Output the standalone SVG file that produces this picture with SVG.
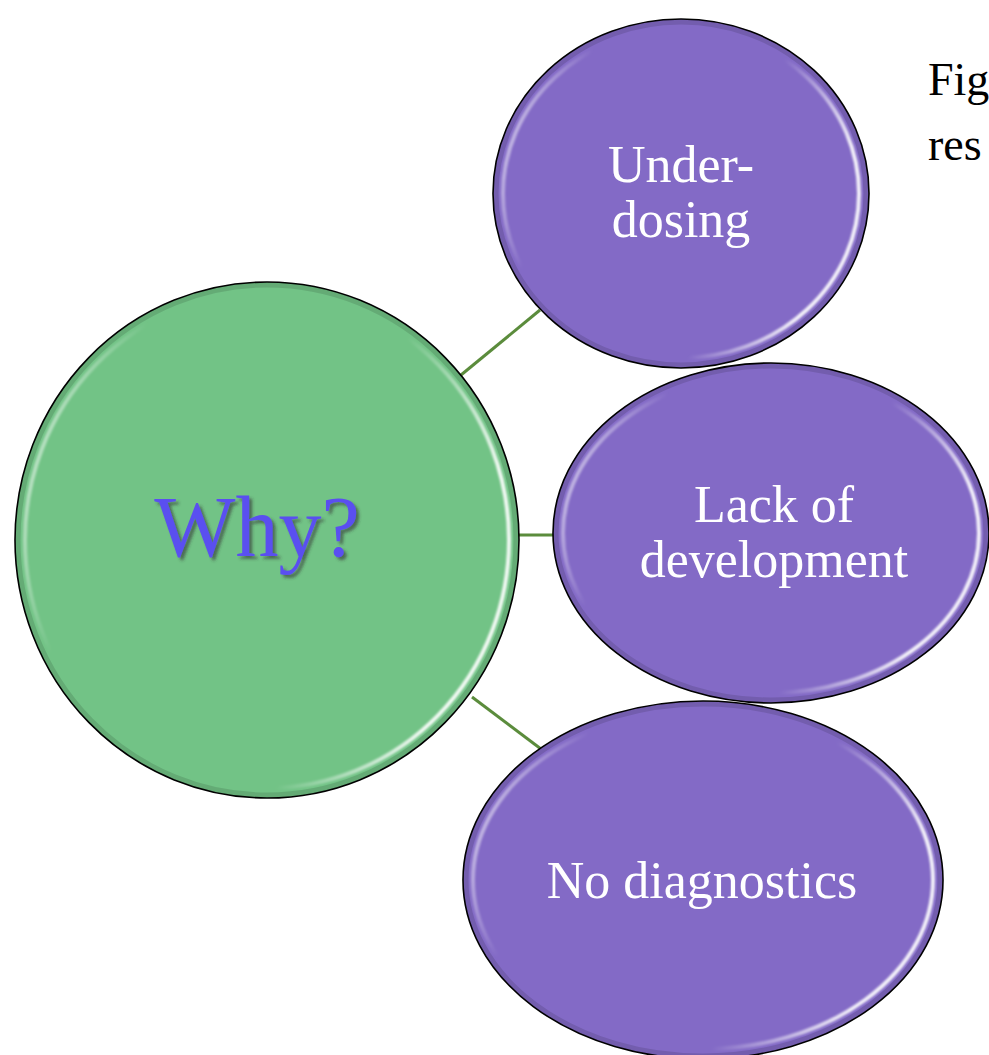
<svg xmlns="http://www.w3.org/2000/svg" width="989" height="1055" viewBox="0 0 989 1055">
<style>
.edge{stroke:#5b8c3c;stroke-width:3;fill:none}
.green{fill:#72c386;stroke:#000;stroke-width:1.6}
.purple{fill:#836ac6;stroke:#000;stroke-width:1.6}
.hl{fill:none;stroke:url(#hlg);stroke-width:4;filter:url(#blur)}
.rim{fill:none;stroke:#000;stroke-opacity:0.12;stroke-width:5}
.lbl{font-family:"Liberation Serif","Times New Roman",serif;font-size:52px;fill:#fff;text-anchor:middle}
.why{font-family:"Liberation Serif","Times New Roman",serif;font-size:86px;fill:#5a4ff0;text-anchor:middle;filter:url(#shadow)}
.cap{font-family:"Liberation Serif","Times New Roman",serif;font-size:46px;fill:#000}
</style>
<defs>
<linearGradient id="hlg" x1="0" y1="0" x2="1" y2="0.3">
<stop offset="0" stop-color="#fff" stop-opacity="0.9"/>
<stop offset="0.25" stop-color="#fff" stop-opacity="0"/>
<stop offset="0.75" stop-color="#fff" stop-opacity="0"/>
<stop offset="1" stop-color="#fff" stop-opacity="0.9"/>
</linearGradient>
<filter id="blur" x="-5%" y="-5%" width="110%" height="110%"><feGaussianBlur stdDeviation="0.8"/></filter>
<filter id="shadow" x="-10%" y="-10%" width="130%" height="130%"><feDropShadow dx="3" dy="3" stdDeviation="1.5" flood-color="#333" flood-opacity="0.6"/></filter>
</defs>
<rect width="989" height="1055" fill="#fff"/>
<g id="connectors">
<line class="edge" x1="461" y1="375" x2="540" y2="310"/>
<line class="edge" x1="518" y1="535" x2="554" y2="535"/>
<line class="edge" x1="472" y1="697" x2="541" y2="749"/>
</g>
<g id="node-why">
<ellipse class="green" cx="267" cy="540" rx="252" ry="258"/>
<ellipse class="rim" cx="267" cy="540" rx="249" ry="255"/>
<ellipse class="hl" cx="267" cy="540" rx="242" ry="248"/>
<text class="why" x="257" y="556">Why?</text>
</g>
<g id="node-underdosing">
<ellipse class="purple" cx="681" cy="193.5" rx="188" ry="174.5"/>
<ellipse class="rim" cx="681" cy="193.5" rx="185" ry="171.5"/>
<ellipse class="hl" cx="681" cy="193.5" rx="178" ry="164.5"/>
<text class="lbl" x="681" y="182">Under-</text>
<text class="lbl" x="681" y="237">dosing</text>
</g>
<g id="node-diagnostics">
<ellipse class="purple" cx="703" cy="880" rx="240" ry="179"/>
<ellipse class="rim" cx="703" cy="880" rx="237" ry="176"/>
<ellipse class="hl" cx="703" cy="880" rx="230" ry="169"/>
<text class="lbl" x="702" y="898">No diagnostics</text>
</g>
<g id="node-development">
<ellipse class="purple" cx="771" cy="533" rx="218" ry="170"/>
<ellipse class="rim" cx="771" cy="533" rx="215" ry="167"/>
<ellipse class="hl" cx="771" cy="533" rx="208" ry="160"/>
<text class="lbl" x="774" y="522">Lack of</text>
<text class="lbl" x="774" y="577">development</text>
</g>
<g id="caption">
<text class="cap" x="928" y="95">Fig</text>
<text class="cap" x="928" y="160">res</text>
</g>
</svg>
